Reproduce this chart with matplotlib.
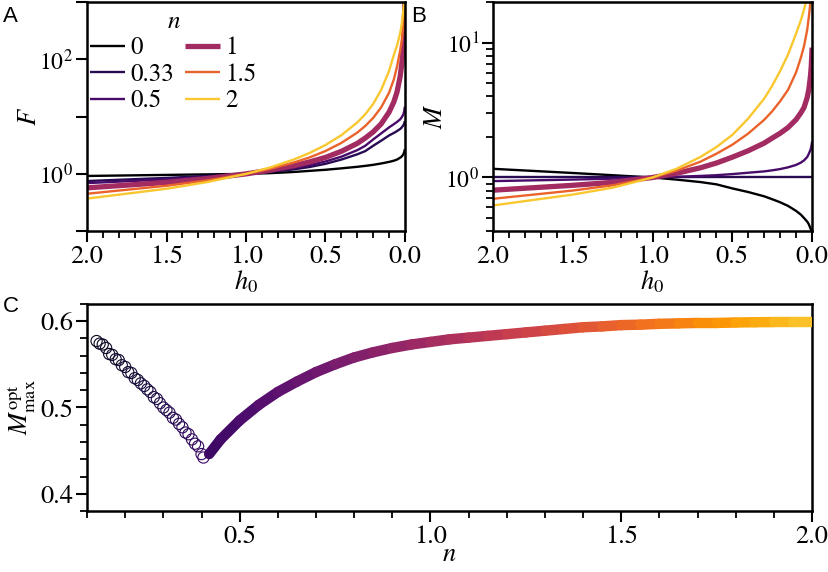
import numpy as np
import matplotlib
matplotlib.use('Agg')
import matplotlib.pyplot as plt
from matplotlib import ticker
from matplotlib.collections import LineCollection

plt.rcParams['font.family'] = 'serif'
plt.rcParams['font.serif'] = ['STIXGeneral', 'Liberation Serif', 'DejaVu Serif']
plt.rcParams['mathtext.fontset'] = 'stix'
plt.rcParams['font.size'] = 19
plt.rcParams['axes.linewidth'] = 1.8

# ---- data ----
n_vals = [0, 0.33, 0.5, 1, 1.5, 2]
n_labels = ['0', '0.33', '0.5', '1', '1.5', '2']

# panel A: F vs h0
h0_A = [2.0, 1.5, 1.25, 1.0, 0.85, 0.7, 0.6, 0.5, 0.4, 0.3, 0.25, 0.2, 0.15,
        0.1, 0.07, 0.05, 0.03, 0.02, 0.01, 0.005, 0.002, 0.001]
F_n0   = [0.92, 0.96, 0.98, 1.0, 1.03, 1.08, 1.13, 1.18, 1.25, 1.33, 1.38, 1.44, 1.52,
          1.62, 1.7, 1.78, 1.92, 2.02, 2.2, 2.4, 2.6, 2.7]
F_n033 = [0.75, 0.85, 0.92, 1.0, 1.08, 1.2, 1.32, 1.5, 1.78, 2.2, 2.5, 3.1, 3.8,
          4.7, 5.2, 5.6, 6.1, 6.5, 7.1, 7.6, 8.1, 8.4]
F_n05  = [0.69, 0.80, 0.89, 1.0, 1.11, 1.27, 1.42, 1.65, 2.0, 2.6, 3.1, 4.0, 5.1,
          6.5, 7.4, 8.1, 9.0, 9.8, 11, 12.5, 14, 15]
F_n1   = [0.57, 0.71, 0.825, 1.0, 1.16, 1.39, 1.62, 1.94, 2.48, 3.41, 4.23, 5.42, 7.47,
          12.0, 18.1, 27.0, 50.8, 85, 170, 320, 700, 1100]
F_n15  = [0.45, 0.62, 0.765, 1.0, 1.22, 1.58, 1.94, 2.51, 3.48, 5.27, 6.87, 9.52, 14.5,
          26.3, 44.8, 75, 145, 220, 400, 700, 1100, 1500]
F_n2   = [0.37, 0.55, 0.715, 1.0, 1.29, 1.78, 2.32, 3.2, 4.75, 7.93, 11.0, 16.7, 29.3,
          63, 120, 175, 290, 420, 730, 1000, 1300, 1500]
F_all = [F_n0, F_n033, F_n05, F_n1, F_n15, F_n2]

# panel B: M vs h0
h0_B = [2.0, 1.5, 1.25, 1.0, 0.85, 0.7, 0.6, 0.5, 0.4, 0.3, 0.25, 0.2, 0.15,
        0.1, 0.07, 0.05, 0.03, 0.02, 0.01, 0.005, 0.002, 0.0]
M_n0   = [1.16, 1.08, 1.04, 1.0, 0.965, 0.925, 0.89, 0.83, 0.78, 0.725, 0.69, 0.655, 0.615,
          0.565, 0.53, 0.50, 0.47, 0.45, 0.42, 0.405, 0.395, 0.385]
M_n033 = [1.0] * 22
M_n05  = [0.94, 0.965, 0.98, 1.0, 1.012, 1.027, 1.04, 1.06, 1.085, 1.11, 1.13, 1.155, 1.19,
          1.24, 1.29, 1.34, 1.42, 1.5, 1.6, 1.68, 1.76, 1.82]
M_n1   = [0.805, 0.875, 0.92, 1.0, 1.074, 1.18, 1.28, 1.415, 1.58, 1.80, 1.96, 2.13, 2.35,
          2.69, 3.02, 3.31, 3.93, 4.51, 5.6, 6.6, 7.8, 8.8]
M_n15  = [0.695, 0.80, 0.875, 1.0, 1.124, 1.31, 1.50, 1.75, 2.12, 2.68, 3.10, 3.68, 4.48,
          6.03, 7.75, 9.46, 12.5, 15.5, 20, 21, 23, 25]
M_n2   = [0.62, 0.747, 0.84, 1.0, 1.16, 1.42, 1.68, 2.07, 2.74, 3.85, 4.79, 6.17, 8.2,
          11.7, 14.7, 17.7, 21.9, 24, 27, 29, 31, 32]
M_all = [M_n0, M_n033, M_n05, M_n1, M_n15, M_n2]

# panel C: optimal M_max vs n
n_open = [0.125, 0.133, 0.141, 0.150, 0.158, 0.166, 0.175, 0.183, 0.191, 0.200,
          0.208, 0.216, 0.225, 0.233, 0.241, 0.250, 0.258, 0.266, 0.275, 0.283,
          0.291, 0.300, 0.308, 0.316, 0.325, 0.333, 0.341, 0.350, 0.358, 0.366,
          0.375, 0.383, 0.391, 0.400, 0.405]
M_open = [0.577, 0.574, 0.573, 0.569, 0.562, 0.561, 0.556, 0.555, 0.549, 0.547,
          0.541, 0.540, 0.534, 0.532, 0.528, 0.525, 0.521, 0.518, 0.512, 0.510,
          0.505, 0.500, 0.497, 0.494, 0.488, 0.486, 0.481, 0.477, 0.471, 0.469,
          0.463, 0.458, 0.455, 0.446, 0.442]
n_fill = [0.42, 0.45, 0.5, 0.55, 0.6, 0.65, 0.7, 0.75, 0.8, 0.85, 0.9, 0.95, 1.0,
          1.05, 1.1, 1.15, 1.2, 1.25, 1.3, 1.35, 1.4, 1.45, 1.5, 1.55, 1.6, 1.65,
          1.7, 1.75, 1.8, 1.85, 1.9, 1.95, 2.0]
M_fill = [0.446, 0.463, 0.485, 0.503, 0.518, 0.530, 0.541, 0.550, 0.558, 0.564,
          0.569, 0.573, 0.576, 0.579, 0.581, 0.583, 0.585, 0.587, 0.589, 0.591,
          0.593, 0.594, 0.5955, 0.596, 0.597, 0.5975, 0.598, 0.598, 0.5985, 0.5988,
          0.599, 0.599, 0.599]

cmap = plt.get_cmap('inferno')
vmax = 2.3


def ncolor(n):
    return cmap(n / vmax)


def style(ax):
    ax.tick_params(which='major', direction='out', length=8, width=1.5, pad=2)
    ax.tick_params(which='minor', direction='out', length=5, width=1.3)


fig = plt.figure(figsize=(8.29, 5.72), dpi=100)
axA = fig.add_axes([0.105, 0.596, 0.3835, 0.400])
axB = fig.add_axes([0.5947, 0.596, 0.3848, 0.400])
axC = fig.add_axes([0.105, 0.1066, 0.8745, 0.362])

# ---- A ----
for n, lab, F in zip(n_vals, n_labels, F_all):
    lw = 3.8 if n == 1 else 1.7
    axA.plot(h0_A, F, color=ncolor(n), lw=lw, label=lab, solid_capstyle='butt')
axA.set_yscale('log')
axA.set_ylim(0.1, 1000)
axA.set_xlim(2, 0)
axA.set_yticks([0.1, 1, 10, 100, 1000], ['', '$10^{0}$', '', '$10^{2}$', ''])
axA.yaxis.set_minor_locator(ticker.NullLocator())
axA.xaxis.set_major_locator(ticker.MultipleLocator(0.5))
axA.xaxis.set_minor_locator(ticker.MultipleLocator(0.1))
axA.xaxis.set_major_formatter(ticker.FormatStrFormatter('%.1f'))
axA.set_xlabel('$h_0$', labelpad=0)
axA.set_ylabel('$F$', labelpad=-2)
style(axA)
axA.tick_params(axis='y', labelsize=17)
leg = axA.legend(title='$n$', ncol=2, frameon=False, loc='upper left',
                 bbox_to_anchor=(-0.005, 0.99), handlelength=1.4, handletextpad=0.2,
                 columnspacing=0.45, labelspacing=0.1, borderaxespad=0.1,
                 borderpad=0.1, fontsize=18, title_fontsize=18)
leg._legend_box.sep = 2

# ---- B ----
for n, M in zip(n_vals, M_all):
    lw = 3.8 if n == 1 else 1.7
    axB.plot(h0_B, M, color=ncolor(n), lw=lw)
axB.set_yscale('log')
axB.set_ylim(0.4, 20)
axB.set_xlim(2, 0)
axB.set_yticks([1, 10], ['$10^{0}$', '$10^{1}$'])
axB.yaxis.set_minor_locator(ticker.LogLocator(base=10, subs=np.arange(2, 10)))
axB.yaxis.set_minor_formatter(ticker.NullFormatter())
axB.xaxis.set_major_locator(ticker.MultipleLocator(0.5))
axB.xaxis.set_minor_locator(ticker.MultipleLocator(0.1))
axB.xaxis.set_major_formatter(ticker.FormatStrFormatter('%.1f'))
axB.set_xlabel('$h_0$', labelpad=0)
axB.set_ylabel('$M$', labelpad=-2)
style(axB)
axB.tick_params(axis='y', labelsize=17)

# ---- C ----
axC.scatter(n_open, M_open, s=65, facecolors='none',
            edgecolors=[ncolor(v) for v in n_open], linewidths=0.8, zorder=3)
pts = np.column_stack([n_fill, M_fill]).reshape(-1, 1, 2)
segs = np.concatenate([pts[:-1], pts[1:]], axis=1)
mid = [(a + b) / 2 for a, b in zip(n_fill[:-1], n_fill[1:])]
lc = LineCollection(segs, colors=[ncolor(v) for v in mid], linewidths=7.5,
                    capstyle='round', zorder=4)
axC.add_collection(lc)
axC.set_xlim(0.1, 2.0)
axC.set_ylim(0.38, 0.62)
axC.xaxis.set_major_locator(ticker.MultipleLocator(0.5))
axC.xaxis.set_minor_locator(ticker.MultipleLocator(0.1))
axC.yaxis.set_major_locator(ticker.MultipleLocator(0.1))
axC.yaxis.set_minor_locator(ticker.MultipleLocator(0.02))
axC.xaxis.set_major_formatter(ticker.FormatStrFormatter('%.1f'))
axC.yaxis.set_major_formatter(ticker.FormatStrFormatter('%.1f'))
axC.set_xlabel('$n$', labelpad=-4)
axC.set_ylabel(r'$M_{\mathrm{max}}^{\mathrm{opt}}$', labelpad=2)
style(axC)

for lab, x, y in [('A', 0.003, 0.99), ('B', 0.496, 0.99), ('C', 0.003, 0.482)]:
    fig.text(x, y, lab, family='Liberation Sans', fontsize=16, va='top', ha='left')

fig.savefig('out.png', dpi=100)
